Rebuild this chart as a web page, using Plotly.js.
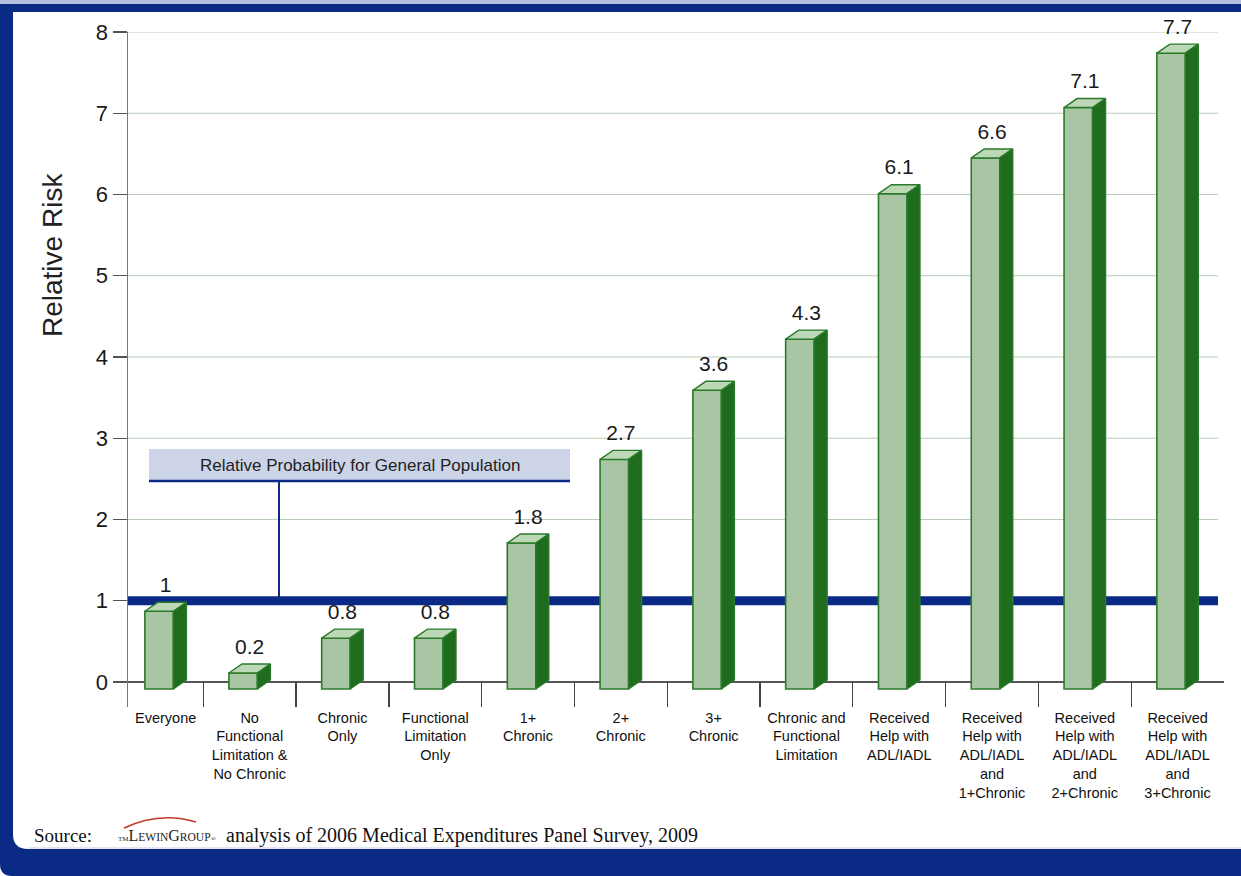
<!DOCTYPE html>
<html>
<head>
<meta charset="utf-8">
<script src="https://cdn.plot.ly/plotly-3.0.1.min.js"></script>
<style>html,body{margin:0;padding:0;background:#fff;}#chart{width:1241px;height:876px;}</style>
</head>
<body>
<div id="chart"></div>
<script>
// ---- data ----
const categories = [
  "Everyone",
  "No<br>Functional<br>Limitation &<br>No Chronic",
  "Chronic<br>Only",
  "Functional<br>Limitation<br>Only",
  "1+<br>Chronic",
  "2+<br>Chronic",
  "3+<br>Chronic",
  "Chronic and<br>Functional<br>Limitation",
  "Received<br>Help with<br>ADL/IADL",
  "Received<br>Help with<br>ADL/IADL<br>and<br>1+Chronic",
  "Received<br>Help with<br>ADL/IADL<br>and<br>2+Chronic",
  "Received<br>Help with<br>ADL/IADL<br>and<br>3+Chronic"
];
const barHeights = [0.87, 0.11, 0.54, 0.54, 1.71, 2.74, 3.59, 4.22, 6.01, 6.45, 7.07, 7.74];
const valueLabels = ["1", "0.2", "0.8", "0.8", "1.8", "2.7", "3.6", "4.3", "6.1", "6.6", "7.1", "7.7"];
const referenceValue = 1;
const yTickVals = [0, 1, 2, 3, 4, 5, 6, 7, 8];
const yTickText = ["0", "1", "2", "3", "4", "5", "6", "7", "8"];
const yTitle = "Relative Risk";
const referenceLabel = "Relative Probability for General Population";
const sourceLabel = "analysis of 2006 Medical Expenditures Panel Survey, 2009";

// ---- geometry / style ----
const PL = 128, PR = 1224, PT = 32, PB = 707;
const fx = x => (x - PL) / (PR - PL);
const fy = y => (PB - y) / (PB - PT);
const xRange = [-0.311, categories.length - 0.5];
const yRange = [-0.308, 8];
const pxPerX = (PR - PL) / (xRange[1] - xRange[0]);
const pxPerY = (PB - PT) / (yRange[1] - yRange[0]);
const frontW = 28.5 / pxPerX;
const depthX = 13 / pxPerX;
const depthY = 9 / pxPerY;
const frontDrop = -7 / pxPerY;
const labelGap = 5 / pxPerY;
const barOffset = -(frontW + depthX) / 2;

const positions = categories.map((c, i) => i === 0 ? (xRange[0] + 0.5) / 2 : i);
const dividers = categories.map((c, i) => i + 0.5);

const outline = "#2b7a2b";
const navy = "#0b2a86";
const font = "Liberation Sans, Arial, sans-serif";
const serif = "Liberation Serif, Times New Roman, serif";

const sideX = [], sideY = [], topX = [], topY = [];
positions.forEach((p, i) => {
  const h = barHeights[i];
  const l = p + barOffset, r = l + frontW;
  sideX.push(r, r, r + depthX, r + depthX, r, null);
  sideY.push(frontDrop, h, h + depthY, frontDrop + depthY, frontDrop, null);
  topX.push(l, r, r + depthX, l + depthX, l, null);
  topY.push(h, h, h + depthY, h + depthY, h, null);
});

const traces = [
  {
    type: "bar", x: positions, y: barHeights.map(h => h - frontDrop), base: frontDrop,
    width: frontW, offset: barOffset,
    marker: {color: "#a8c6a3", line: {color: outline, width: 1.6}},
    hoverinfo: "skip", cliponaxis: false
  },
  {
    type: "scatter", mode: "lines", x: sideX, y: sideY, xaxis: "x2",
    fill: "toself", fillcolor: "#1f6c1f", line: {color: outline, width: 1.4},
    hoverinfo: "skip", cliponaxis: false
  },
  {
    type: "scatter", mode: "lines", x: topX, y: topY,
    fill: "toself", fillcolor: "#bcd8b6", line: {color: outline, width: 1.4},
    hoverinfo: "skip", cliponaxis: false
  },
  {
    type: "scatter", mode: "text", x: positions, y: barHeights.map(h => h + depthY + labelGap),
    text: valueLabels, textposition: "top center",
    textfont: {family: font, size: 21, color: "#1a1a1a"},
    hoverinfo: "skip", cliponaxis: false
  }
];

const framePath =
  `M ${fx(0)},${fy(4)} L ${fx(13)},${fy(4)} L ${fx(13)},${fy(834)} ` +
  `Q ${fx(13)},${fy(849)} ${fx(28)},${fy(849)} L ${fx(1241)},${fy(849)} L ${fx(1241)},${fy(876)} ` +
  `L ${fx(12)},${fy(876)} Q ${fx(0)},${fy(876)} ${fx(0)},${fy(864)} Z`;

// gridlines at the y ticks, drawn under the reference line
const gridShapes = yTickVals.filter(v => v !== 0).map(v => ({
  type: "line", xref: "paper", yref: "y", x0: 0, x1: fx(1218), y0: v, y1: v,
  line: {color: "#b8ccb8", width: 1}, layer: "below"
}));

const shapes = [
  {type: "rect", xref: "paper", yref: "paper", x0: fx(0), x1: fx(1241), y0: fy(0), y1: fy(4),
   fillcolor: "#b6bfe0", line: {width: 0}, layer: "below"},
  {type: "rect", xref: "paper", yref: "paper", x0: fx(0), x1: fx(1241), y0: fy(4), y1: fy(12),
   fillcolor: navy, line: {width: 0}, layer: "below"},
  {type: "path", xref: "paper", yref: "paper", path: framePath,
   fillcolor: navy, line: {width: 0}, layer: "below"},
  {type: "line", xref: "paper", yref: "paper", x0: fx(28), x1: fx(1241), y0: fy(848), y1: fy(848),
   line: {color: "#c7cde3", width: 1}, layer: "below"},
  ...gridShapes,
  // reference line (below bars)
  {type: "line", xref: "paper", yref: "y", x0: 0, x1: fx(1218),
   y0: referenceValue, y1: referenceValue, line: {color: navy, width: 9}, layer: "below"},
  // callout box
  {type: "rect", xref: "paper", yref: "paper", x0: fx(149), x1: fx(570), y0: fy(480), y1: fy(449),
   fillcolor: "#cdd4e8", line: {width: 0}},
  {type: "line", xref: "paper", yref: "paper", x0: fx(149), x1: fx(570), y0: fy(481), y1: fy(481),
   line: {color: navy, width: 2.5}},
  {type: "line", xref: "paper", yref: "paper", x0: fx(279), x1: fx(279), y0: fy(481), y1: fy(598),
   line: {color: navy, width: 2}},
  // logo swoosh
  {type: "path", xref: "paper", yref: "paper",
   path: `M ${fx(124)},${fy(828)} Q ${fx(160)},${fy(811)} ${fx(196)},${fy(822)}`,
   line: {color: "#c0392b", width: 1.5}}
];

const annotations = [
  {xref: "paper", yref: "paper", x: fx(52), y: fy(255), text: yTitle, textangle: -90, showarrow: false,
   xanchor: "center", yanchor: "middle", font: {family: font, size: 28, color: "#222"}},
  {xref: "paper", yref: "paper", x: fx(359.5), y: fy(465), text: referenceLabel, showarrow: false,
   xanchor: "center", yanchor: "middle", font: {family: font, size: 17, color: "#222"}},
  {xref: "paper", yref: "paper", x: fx(32), y: fy(835), text: "Source:", showarrow: false,
   xanchor: "left", yanchor: "middle", font: {family: serif, size: 19, color: "#111"}},
  {xref: "paper", yref: "paper", x: fx(116), y: fy(835),
   text: '<span style="font-size:7px">TM</span>L<span style="font-size:11.5px">EWIN</span>G<span style="font-size:11.5px">ROUP</span><span style="font-size:7px">®</span>',
   showarrow: false, xanchor: "left", yanchor: "middle",
   font: {family: serif, size: 16, color: "#222"}},
  {xref: "paper", yref: "paper", x: fx(224), y: fy(835), text: sourceLabel, showarrow: false,
   xanchor: "left", yanchor: "middle", font: {family: serif, size: 20, color: "#111"}}
];

const layout = {
  width: 1241, height: 876,
  margin: {l: PL, r: 1241 - PR, t: PT, b: 876 - PB, pad: 0},
  paper_bgcolor: "#ffffff", plot_bgcolor: "#ffffff",
  showlegend: false,
  xaxis: {
    range: xRange, tickmode: "array", tickvals: positions, ticktext: categories,
    ticks: "", showline: false, showgrid: false, zeroline: false, tickangle: 0,
    tickfont: {family: font, size: 14.5, color: "#111"}, fixedrange: true
  },
  xaxis2: {
    overlaying: "x", anchor: "y", side: "bottom", range: xRange,
    tickmode: "array", tickvals: dividers, ticks: "inside", ticklen: 25, tickwidth: 1.3, tickcolor: "#444",
    showticklabels: false, showline: false, showgrid: false, zeroline: false, fixedrange: true
  },
  yaxis: {
    range: yRange, tickmode: "array", tickvals: yTickVals, ticktext: yTickText,
    ticks: "outside", ticklen: 14, tickwidth: 1.3, tickcolor: "#555",
    showline: true, linecolor: "#777", linewidth: 1.5,
    showgrid: false,
    zeroline: true, zerolinecolor: "#555", zerolinewidth: 1.5,
    tickfont: {family: font, size: 22, color: "#1a1a1a"},
    fixedrange: true
  },
  shapes: shapes,
  annotations: annotations
};

Plotly.newPlot("chart", traces, layout, {displayModeBar: false, staticPlot: true});
</script>
</body>
</html>
